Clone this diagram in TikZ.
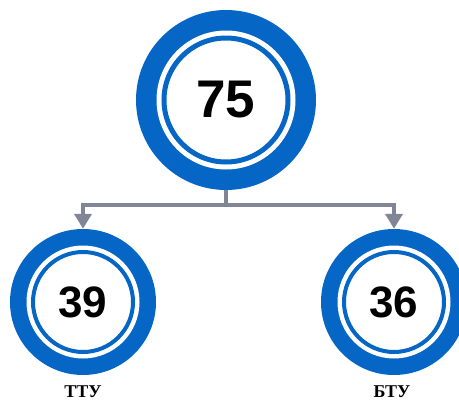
\documentclass[tikz,border=0pt]{standalone}
\usepackage{fontspec}
\setmainfont{Liberation Serif}
\newfontfamily\numfont{Liberation Sans}
\usetikzlibrary{arrows.meta}

\definecolor{ringblue}{RGB}{5,102,198}
\definecolor{linkgray}{RGB}{128,134,150}

\tikzset{
  outerring/.style={circle, fill=ringblue, inner sep=0pt},
  gapring/.style={circle, fill=white, inner sep=0pt},
  numring/.style={circle, draw=ringblue, fill=white, inner sep=0pt},
  link/.style={linkgray, line width=4pt, -{Triangle[length=15pt,width=17pt]}},
  uni/.style={font=\bfseries\fontsize{18}{18}\selectfont}
}

\begin{document}
\begin{tikzpicture}[x=1pt,y=-1pt]
        \useasboundingbox (0,0) rectangle (459,407);
        % top circle
        \node[outerring, minimum size=180pt] (o75) at (226,100) {};
        \node[gapring, minimum size=139pt] at (o75) {};
        \node[numring, line width=5pt, minimum size=124pt,
              font=\numfont\bfseries\fontsize{53}{53}\selectfont] (n75) at (o75) {75};
        % left circle
        \node[outerring, minimum size=146pt] (o39) at (83,302) {};
        \node[gapring, minimum size=113pt] at (o39) {};
        \node[numring, line width=4pt, minimum size=100pt,
              font=\numfont\bfseries\fontsize{44}{44}\selectfont] (n39) at (o39) {39};
        % right circle
        \node[outerring, minimum size=146pt] (o36) at (394,302) {};
        \node[gapring, minimum size=113pt] at (o36) {};
        \node[numring, line width=4pt, minimum size=100pt,
              font=\numfont\bfseries\fontsize{44}{44}\selectfont] (n36) at (o36) {36};
        % labels
        \node[uni] (t39) at (83,392) {ТТУ};
        \node[uni] (t36) at (392,392) {БТУ};
        % connectors
        \coordinate (split) at (226,205);
        \draw[link] (o75.south) -- (split) -| (o39.north);
        \draw[link] (split) -| (o36.north);
        \end{tikzpicture}
\end{document}
